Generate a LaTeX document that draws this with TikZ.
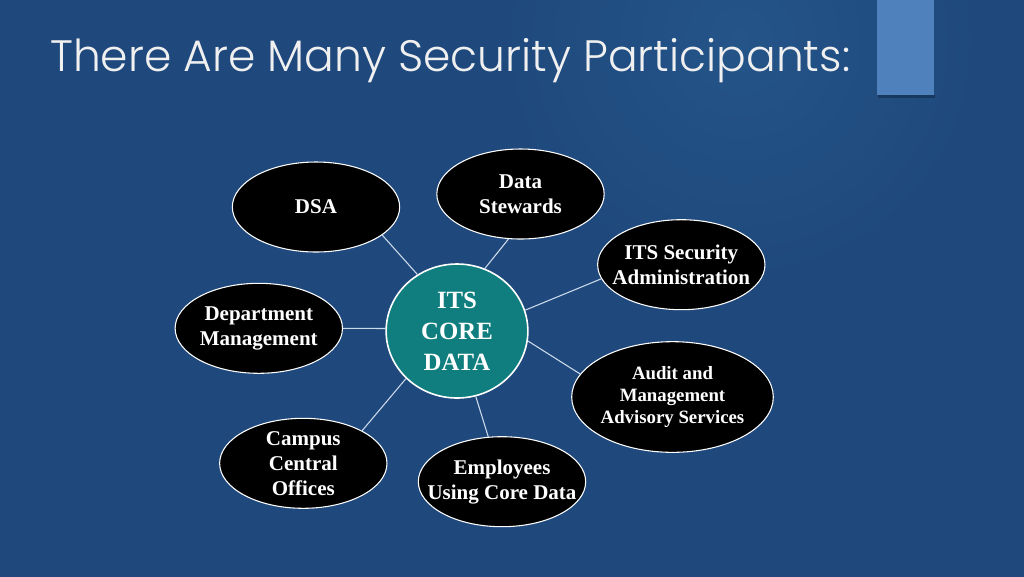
\documentclass[tikz,border=0pt]{standalone}
\usepackage{fontspec}
\setmainfont{Liberation Serif}
\newfontfamily\titlefont{Poppins}[UprightFont=* Light]
\usetikzlibrary{shapes.geometric}
\definecolor{bg}{RGB}{31,73,125}
\definecolor{bglight}{RGB}{36,84,136}
\definecolor{accentblue}{RGB}{79,129,189}
\definecolor{coreteal}{RGB}{16,126,126}
\definecolor{linkc}{RGB}{205,218,234}
\begin{document}
\begin{tikzpicture}[x=0.75pt,y=-0.75pt,
  blob/.style={ellipse, draw=white, line width=0.8pt, fill=black, inner sep=0pt,
    minimum width=125.5pt, minimum height=67.5pt},
  lbl/.style={text=white, align=center, inner sep=0pt,
    font=\bfseries\fontsize{15.75}{18.75}\selectfont},
  lblsmall/.style={lbl, font=\bfseries\fontsize{14.1}{16.8}\selectfont},
  lblcore/.style={lbl, font=\bfseries\fontsize{18.6}{23.2}\selectfont},
  link/.style={draw=linkc, line width=0.8pt}]
\useasboundingbox (0,0) rectangle (1024,576);
\fill[bg] (-2,-2) rectangle (1026,578);
\begin{scope}
  \clip (0,0) rectangle (1024,576);
  \shade[inner color=bglight, outer color=bg] (740,40) circle (240);
\end{scope}
% accent bar
\fill[black, opacity=0.25] (878,95) rectangle (935,97.5);
\fill[accentblue] (877,-2) rectangle (934,95);
% title
\node[anchor=base west, text=white!94!black, inner sep=0pt,
  font=\titlefont\fontsize{33}{40}\selectfont] (title) at (50,71)
  {There Are Many Security Participants:};
% nodes
\node[ellipse, draw=white, line width=1.2pt, fill=coreteal, inner sep=0pt,
  minimum width=106.3pt, minimum height=100.5pt,
  label={[lblcore]center:{ITS\\CORE\\DATA}}] (core) at (457,331) {};
\node[blob, label={[lbl]center:DSA}] (dsa) at (316,207) {};
\node[blob, label={[lbl]center:{Data\\Stewards}}] (stew) at (520.5,194) {};
\node[blob, label={[lbl]center:{ITS Security\\Administration}}] (itssec) at (681.3,264.7) {};
\node[blob, label={[lbl]center:{Department\\Management}}] (dept) at (258.8,328.3) {};
\node[blob, minimum width=151.2pt, minimum height=83pt,
  label={[lblsmall]center:{Audit and\\Management\\Advisory Services}}] (audit) at (672.5,397) {};
\node[blob, label={[lbl]center:{Campus\\Central\\Offices}}] (campus) at (303.3,463.3) {};
\node[blob, label={[lbl]center:{Employees\\Using Core Data}}] (emp) at (502,481.7) {};
% connectors
\draw[link] (dsa.-23) -- (core.125);
\draw[link] (stew.-105) -- (core.66);
\draw[link] (itssec.-170) -- (core.17);
\draw[link] (audit.166) -- (core.-8);
\draw[link] (dept.0) -- (core.178);
\draw[link] (campus.29) -- (core.-137);
\draw[link] (emp.107) -- (core.-74);
\end{tikzpicture}
\end{document}
